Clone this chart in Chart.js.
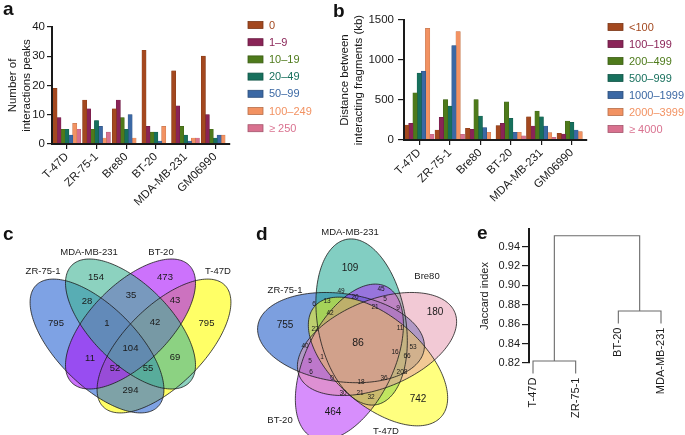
<!DOCTYPE html>
<html>
<head>
<meta charset="utf-8">
<title>Chromatin interaction summary</title>
<script src="https://cdn.jsdelivr.net/npm/chart.js@4.4.1/dist/chart.umd.min.js"></script>
<style>
  html, body { margin: 0; padding: 0; background: #fff; }
  body { position: relative; width: 685px; height: 435px; overflow: hidden; font-family: "Liberation Sans", Arial, Helvetica, sans-serif; }
  .box { position: absolute; }
  .tag { position: absolute; font-size: 19px; font-weight: bold; line-height: 19px; color: #111; }
</style>
</head>
<body>
<div class="box" style="left:0;top:0;width:335px;height:218px"><canvas id="peakChart"></canvas></div>
<div class="box" style="left:330px;top:0;width:355px;height:218px"><canvas id="distChart"></canvas></div>
<div class="box" style="left:0;top:200px;width:240px;height:235px"><canvas id="quadVenn"></canvas></div>
<div class="box" style="left:230px;top:200px;width:245px;height:235px"><canvas id="quintVenn"></canvas></div>
<div class="box" style="left:470px;top:200px;width:215px;height:235px"><canvas id="dendro"></canvas></div>
<div class="tag" style="left:3px;top:-1px">a</div>
<div class="tag" style="left:333px;top:1px">b</div>
<div class="tag" style="left:3px;top:224px">c</div>
<div class="tag" style="left:256px;top:224px">d</div>
<div class="tag" style="left:477px;top:223px">e</div>
<script>
// ---- data ----
var cellLines = ['T-47D', 'ZR-75-1', 'Bre80', 'BT-20', 'MDA-MB-231', 'GM06990'];

var peakBins = ['0', '1–9', '10–19', '20–49', '50–99', '100–249', '≥ 250'];
var peakCounts = [
  [19, 15, 12, 32, 25, 30],
  [9, 12, 15, 6, 13, 10],
  [5, 5, 9, 4, 6, 5],
  [5, 8, 5, 4, 3, 2],
  [3, 6, 10, 1, 1, 3],
  [7, 2, 2, 6, 2, 3],
  [5, 4, 0, 0, 2, 0]
];
var peakTicks = [0, 10, 20, 30, 40];

var distanceBins = ['<100', '100–199', '200–499', '500–999', '1000–1999', '2000–3999', '≥ 4000'];
var distanceKb = [
  [186, 124, 145, 178, 289, 83],
  [207, 281, 132, 207, 174, 74],
  [587, 504, 504, 475, 360, 236],
  [835, 421, 298, 269, 289, 219],
  [860, 1178, 153, 95, 174, 124],
  [1393, 1355, 95, 95, 91, 103],
  [70, 70, 0, 50, 33, 0]
];
var distanceTicks = [0, 500, 1000, 1500];

var quadSets = ['ZR-75-1', 'MDA-MB-231', 'BT-20', 'T-47D'];
var quadCounts = [795, 154, 473, 795, 28, 35, 43, 1, 42, 104, 11, 69, 52, 55, 294];

var quintSets = ['MDA-MB-231', 'Bre80', 'T-47D', 'BT-20', 'ZR-75-1'];
var quintCounts = [109, 180, 742, 464, 755, 86,
  49, 45, 6, 13, 20, 5, 21, 9, 42, 22, 11, 40, 53, 16, 66, 1, 5, 6, 208, 0, 18, 36, 30, 21, 32];

var dendroLeaves = ['T-47D', 'ZR-75-1', 'BT-20', 'MDA-MB-231'];
var dendroMerge = [[-1, -2], [-3, -4], [1, 2]];
var dendroHeight = [0.822, 0.8735, 0.951];
var jaccardTicks = [0.82, 0.84, 0.86, 0.88, 0.90, 0.92, 0.94];

// ---- layout ----
var FONT = '"Liberation Sans", Arial, Helvetica, sans-serif';
var INK = '#1a1a1a';
Chart.defaults.font.family = FONT;
Chart.defaults.color = INK;

var binColors = ['#a3481f', '#8a2457', '#4e7a1b', '#17705d', '#3b68a4', '#f29262', '#d9718f'];

function shade(hex, f) {
  var n = parseInt(hex.slice(1), 16);
  var r = Math.round((n >> 16) * f), g = Math.round(((n >> 8) & 255) * f), b = Math.round((n & 255) * f);
  return 'rgb(' + r + ',' + g + ',' + b + ')';
}

// label anchors and outlines, both venns in page pixels
var quadSetPos = [[43, 271], [89, 252], [161, 252], [218, 271]];
var quadCountPos = [[56, 323], [96, 277], [165, 277], [206.5, 323], [87, 301.5],
  [131, 295], [175, 300.5], [107, 323], [155, 322], [130.5, 348], [90, 358.5],
  [175, 357], [115, 368.5], [148, 368.5], [130.5, 390]];
var quadEllipses = [ // T-47D, ZR-75-1, BT-20, MDA-MB-231
  { cx: 164, cy: 346, a: 86, b: 39.5, rot: -45, fill: 'rgba(255,255,0,0.6)' },
  { cx: 97, cy: 346, a: 86, b: 39.5, rot: 45, fill: 'rgba(40,100,210,0.6)' },
  { cx: 130.5, cy: 324, a: 83, b: 39.5, rot: -45, fill: 'rgba(170,20,250,0.6)' },
  { cx: 130.5, cy: 324, a: 83, b: 39.5, rot: 45, fill: 'rgba(63,180,148,0.6)' }
];

var quintSetPos = [[350, 232], [427, 276], [386, 431], [280, 420], [285, 290]];
var quintCountPos = [[350, 268], [435, 312], [418, 399], [333, 412], [285, 325], [358, 343],
  [341, 291], [381, 289], [314, 304], [327, 301], [355, 297], [385, 299], [375, 307], [398, 308],
  [330, 313], [315, 329], [400, 328], [305, 346], [413, 347], [395, 352], [407, 356], [322, 357],
  [310, 361], [311, 372], [402, 372], [332, 378], [361, 382], [384, 378], [343, 393], [360, 393], [371, 397]];
// per ellipse: centre x, centre y, major-axis heading (degrees clockwise from up)
var quintShapes = [
  [361.6, 322, -10],   // MDA-MB-231
  [377, 344, 68],      // Bre80
  [378, 361.5, 131],   // T-47D
  [349.4, 362, 206],   // BT-20
  [341, 337.6, 278]    // ZR-75-1
];
var quintA = 84, quintB = 44;
var quintFills = ['rgba(40,170,150,0.58)', 'rgba(230,147,172,0.5)', 'rgba(255,255,0,0.5)',
  'rgba(175,30,250,0.5)', 'rgba(30,90,200,0.58)'];
var quintOrder = [4, 0, 3, 2, 1];
var quintEllipses = quintOrder.map(function (i) {
  var s = quintShapes[i];
  return { cx: s[0], cy: s[1], a: quintA, b: quintB, rot: s[2] - 90, fill: quintFills[i] };
});

// ---- plugins ----
var boxLegend = {
  id: 'boxLegend',
  afterDraw: function (chart, args, opts) {
    var ctx = chart.ctx, area = chart.chartArea;
    ctx.save();
    ctx.font = '11px ' + FONT;
    ctx.textBaseline = 'middle';
    ctx.textAlign = 'left';
    chart.data.datasets.forEach(function (ds, i) {
      var x = area.right + opts.dx, y = area.top + opts.dy + i * opts.step;
      ctx.fillStyle = ds.backgroundColor;
      ctx.fillRect(x, y - 3.5, 15, 7);
      ctx.strokeStyle = ds.borderColor;
      ctx.lineWidth = 0.8;
      ctx.strokeRect(x, y - 3.5, 15, 7);
      ctx.fillStyle = ds.backgroundColor;
      ctx.fillText(ds.label, x + 21, y + 0.5);
    });
    ctx.restore();
  }
};

function tracePath(ctx, sx, sy, e) {
  var r = e.rot * Math.PI / 180;
  ctx.beginPath();
  for (var k = 0; k <= 180; k++) {
    var t = k / 180 * 2 * Math.PI;
    var x = e.cx + e.a * Math.cos(t) * Math.cos(r) - e.b * Math.sin(t) * Math.sin(r);
    var y = e.cy + e.a * Math.cos(t) * Math.sin(r) + e.b * Math.sin(t) * Math.cos(r);
    var px = sx.getPixelForValue(x), py = sy.getPixelForValue(y);
    if (k === 0) ctx.moveTo(px, py); else ctx.lineTo(px, py);
  }
  ctx.closePath();
}

var vennShapes = {
  id: 'vennShapes',
  beforeDatasetsDraw: function (chart, args, opts) {
    var ctx = chart.ctx, sx = chart.scales.x, sy = chart.scales.y;
    ctx.save();
    opts.ellipses.forEach(function (e) {
      tracePath(ctx, sx, sy, e);
      ctx.fillStyle = e.fill;
      ctx.fill();
    });
    ctx.strokeStyle = INK;
    ctx.lineWidth = 0.8;
    opts.ellipses.forEach(function (e) {
      tracePath(ctx, sx, sy, e);
      ctx.stroke();
    });
    ctx.restore();
  },
  afterDatasetsDraw: function (chart) {
    var ctx = chart.ctx;
    ctx.save();
    ctx.fillStyle = INK;
    ctx.textAlign = 'center';
    ctx.textBaseline = 'middle';
    chart.data.datasets.forEach(function (ds, i) {
      ctx.font = ds.fontSize + 'px ' + FONT;
      chart.getDatasetMeta(i).data.forEach(function (pt, j) {
        ctx.fillText(ds.texts[j], pt.x, pt.y);
      });
    });
    ctx.restore();
  }
};

function xy(p) { return { x: p[0], y: p[1] }; }
function labelSet(pos, texts, size) {
  return { data: pos.map(xy), texts: texts, fontSize: size, pointRadius: 0 };
}

function vennChart(id, datasets, bounds, ellipses) {
  return new Chart(document.getElementById(id), {
    type: 'scatter',
    data: { datasets: datasets },
    options: {
      responsive: true, maintainAspectRatio: false, animation: false,
      layout: { padding: 0 },
      scales: {
        x: { type: 'linear', display: false, min: bounds[0], max: bounds[1] },
        y: { display: false, min: bounds[2], max: bounds[3], reverse: true }
      },
      plugins: { legend: { display: false }, tooltip: { enabled: false }, vennShapes: { ellipses: ellipses } }
    },
    plugins: [vennShapes]
  });
}

// ---- bar charts ----
function barChart(id, bins, values, ticks, yTitle, geo) {
  return new Chart(document.getElementById(id), {
    type: 'bar',
    data: {
      labels: cellLines,
      datasets: bins.map(function (b, i) {
        return {
          label: b, data: values[i], backgroundColor: binColors[i],
          borderColor: shade(binColors[i], 0.75), borderWidth: 0.4, inflateAmount: 0.45,
          categoryPercentage: geo.cat, barPercentage: 1
        };
      })
    },
    options: {
      responsive: true, maintainAspectRatio: false, animation: false,
      layout: { padding: { left: 0, right: geo.right, top: geo.top, bottom: 0 } },
      plugins: { legend: { display: false }, tooltip: { enabled: false }, boxLegend: geo.legend },
      scales: {
        x: {
          afterFit: function (s) { s.height = geo.xh; },
          grid: { drawOnChartArea: false, offset: false, tickLength: 5, color: INK, lineWidth: 1.2 },
          border: { color: INK, width: 2, z: 1 },
          ticks: { font: { size: 11.5 }, minRotation: 45, maxRotation: 45, autoSkip: false, padding: 1 }
        },
        y: {
          min: ticks[0], max: ticks[ticks.length - 1],
          afterBuildTicks: function (s) { s.ticks = ticks.map(function (v) { return { value: v }; }); },
          afterFit: function (s) { s.width = geo.yw; },
          grid: { drawOnChartArea: false, tickLength: geo.tl, color: INK, lineWidth: 1.2 },
          border: { color: INK, width: 2, z: 1 },
          ticks: { font: { size: 11.5 }, padding: geo.tp, callback: function (v) { return String(v); } },
          title: { display: true, text: yTitle, font: { size: 11.5, lineHeight: 1.2 }, padding: { top: geo.tt, bottom: 0 } }
        }
      }
    },
    plugins: [boxLegend]
  });
}

barChart('peakChart', peakBins, peakCounts, peakTicks, ['Number of', 'interactions peaks'],
  { right: 105, top: 27, xh: 74, yw: 52, tl: 5, tp: 2, tt: 6, cat: 0.93, legend: { dx: 18, dy: -2, step: 17.2 } });

barChart('distChart', distanceBins, distanceKb, distanceTicks, ['Distance between', 'interacting fragments (kb)'],
  { right: 98, top: 20, xh: 78, yw: 74, tl: 6, tp: 4, tt: 8, cat: 0.96, legend: { dx: 21, dy: 7, step: 17 } });

// ---- venn c ----
vennChart('quadVenn', [
  labelSet(quadSetPos, quadSets, 9.5),
  labelSet(quadCountPos, quadCounts.map(String), 9.5)
], [0, 240, 200, 435], quadEllipses);

// ---- venn d ----
vennChart('quintVenn', [
  labelSet(quintSetPos, quintSets, 9.5),
  labelSet(quintCountPos.slice(0, 5), quintCounts.slice(0, 5).map(String), 10),
  labelSet(quintCountPos.slice(5, 6), quintCounts.slice(5, 6).map(String), 10.5),
  labelSet(quintCountPos.slice(6), quintCounts.slice(6).map(String), 6.5)
], [230, 475, 200, 435], quintEllipses);

// ---- dendrogram e ----
var hang = 0.1 * (Math.max.apply(null, dendroHeight) - Math.min.apply(null, dendroHeight));
var nodeX = [], leafBottom = [];
var links = dendroMerge.map(function (m, i) {
  var h = dendroHeight[i];
  var ends = m.map(function (c) {
    if (c < 0) {
      leafBottom[-c - 1] = h - hang;
      return { x: -c - 1, y: h - hang };
    }
    return { x: nodeX[c - 1], y: dendroHeight[c - 1] };
  });
  nodeX[i] = (ends[0].x + ends[1].x) / 2;
  return [ends[0], { x: ends[0].x, y: h }, { x: ends[1].x, y: h }, ends[1]];
});

var leafLabels = {
  id: 'leafLabels',
  afterDatasetsDraw: function (chart) {
    var ctx = chart.ctx, sx = chart.scales.x, sy = chart.scales.y;
    ctx.save();
    ctx.font = '11px ' + FONT;
    ctx.fillStyle = INK;
    ctx.textAlign = 'right';
    ctx.textBaseline = 'middle';
    dendroLeaves.forEach(function (name, i) {
      ctx.save();
      ctx.translate(sx.getPixelForValue(i), sy.getPixelForValue(leafBottom[i]) + 4);
      ctx.rotate(-Math.PI / 2);
      ctx.fillText(name, 0, 0);
      ctx.restore();
    });
    ctx.restore();
  }
};

new Chart(document.getElementById('dendro'), {
  type: 'scatter',
  data: {
    datasets: links.map(function (pts) {
      return { data: pts, showLine: true, borderColor: '#6b6b6b', borderWidth: 1.1, pointRadius: 0, clip: false };
    })
  },
  options: {
    responsive: true, maintainAspectRatio: false, animation: false,
    layout: { padding: { left: 4, right: 0, top: 29, bottom: 72 } },
    scales: {
      x: { type: 'linear', display: false, min: -0.094, max: 3.5625 },
      y: {
        min: 0.82, max: 0.958,
        afterBuildTicks: function (s) { s.ticks = jaccardTicks.map(function (v) { return { value: v }; }); },
        afterFit: function (s) { s.width = 55; },
        grid: { drawOnChartArea: false, tickLength: 7, color: INK, lineWidth: 1.2 },
        border: { color: INK, width: 2 },
        ticks: { font: { size: 11 }, padding: 2, callback: function (v) { return v.toFixed(2); } },
        title: { display: true, text: 'Jaccard index', font: { size: 11 }, padding: { top: 4, bottom: 0 } }
      }
    },
    plugins: { legend: { display: false }, tooltip: { enabled: false } }
  },
  plugins: [leafLabels]
});
</script>
</body>
</html>
